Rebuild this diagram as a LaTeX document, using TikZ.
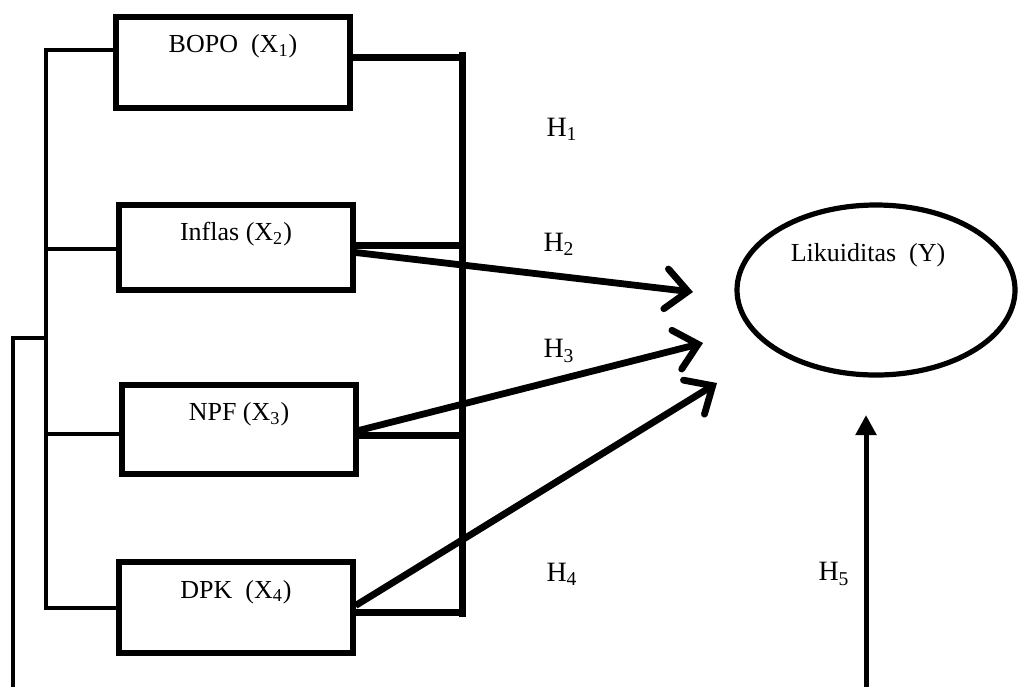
\documentclass[tikz,border=0pt]{standalone}
\usepackage{fontspec}
\setmainfont{Liberation Serif}
\usetikzlibrary{arrows.meta,shapes.geometric}

\tikzset{
  varbox/.style={draw, line width=2.6pt, minimum width=117pt, inner sep=0pt},
  boxtext/.style={font=\fontsize{13}{15}\selectfont},
  hyp/.style={font=\fontsize{14}{16}\selectfont},
  bus/.style={line width=2.2pt},
  thickbus/.style={line width=3.5pt},
  effect/.style={line width=3.4pt, -{Straight Barb[length=11pt,width=20pt,line cap=round]}},
}

\begin{document}
\begin{tikzpicture}[x=0.5pt,y=-0.5pt]
  \useasboundingbox (0,0) rectangle (1020,687);

  % independent variables
  \node[varbox, minimum height=45.5pt] (bopo) at (233,62.5) {};
  \node[varbox, minimum height=42.5pt] (inflas) at (236,247.5) {};
  \node[varbox, minimum height=44.5pt] (npf) at (239,429.5) {};
  \node[varbox, minimum height=45.5pt] (dpk) at (236,607.5) {};
  \node[boxtext] (bopotxt) at (233,46) {BOPO\ \ (X\textsubscript{1})};
  \node[boxtext] (inflastxt) at (236,234) {Inflas (X\textsubscript{2})};
  \node[boxtext] (npftxt) at (239,414) {NPF (X\textsubscript{3})};
  \node[boxtext] (dpktxt) at (236,592) {DPK\ \ (X\textsubscript{4})};

  % dependent variable
  \node[draw, ellipse, line width=2.6pt, minimum width=139pt, minimum height=85pt,
        inner sep=0pt] (lik) at (876,290) {};
  \node[boxtext] (liktxt) at (868,255) {Likuiditas\ \ (Y)};

  % left bus
  \coordinate (l1) at (46,50);
  \coordinate (l2) at (46,249);
  \coordinate (l3) at (46,434);
  \coordinate (l4) at (46,608);
  \draw[bus] (bopo.west |- l1) -- (l1) -- (l4) -- (dpk.west |- l4);
  \draw[bus] (l2) -- (inflas.west |- l2);
  \draw[bus] (l3) -- (npf.west |- l3);
  \coordinate (s0) at (13,687);
  \coordinate (s1) at (13,338);
  \coordinate (s2) at (48,338);
  \draw[bus] (s0) -- (s1) -- (s2);

  % right bus
  \coordinate (r0) at (462,52);
  \coordinate (r1) at (462,57);
  \coordinate (r2) at (462,245);
  \coordinate (r3) at (462,435);
  \coordinate (r4) at (462,612);
  \coordinate (r5) at (462,617);
  \draw[thickbus] (r0) -- (r5);
  \draw[thickbus] (bopo.east |- r1) -- (r1);
  \draw[thickbus] (inflas.east |- r2) -- (r2);
  \draw[thickbus] (npf.east |- r3) -- (r3);
  \draw[thickbus] (dpk.east |- r4) -- (r4);

  % effects
  \coordinate (t2) at (693,292);
  \coordinate (t3) at (703,343);
  \coordinate (t4) at (717,383);
  \draw[effect] ([yshift=-2.5pt]inflas.east) -- (t2);
  \draw[effect] ([yshift=-0.5pt]npf.east) -- (t3);
  \draw[effect] ([yshift=1pt]dpk.east) -- (t4);

  \coordinate (h5a) at (866,687);
  \coordinate (h5b) at (866,415);
  \draw[line width=2.5pt, -{Triangle[length=10pt,width=10pt]}] (h5a) -- (h5b);

  % hypotheses
  \node[hyp] (h1) at (562,129) {H\textsubscript{1}};
  \node[hyp] (h2) at (559,244) {H\textsubscript{2}};
  \node[hyp] (h3) at (559,351) {H\textsubscript{3}};
  \node[hyp] (h4) at (562,574) {H\textsubscript{4}};
  \node[hyp] (h5) at (834,574) {H\textsubscript{5}};
\end{tikzpicture}
\end{document}
